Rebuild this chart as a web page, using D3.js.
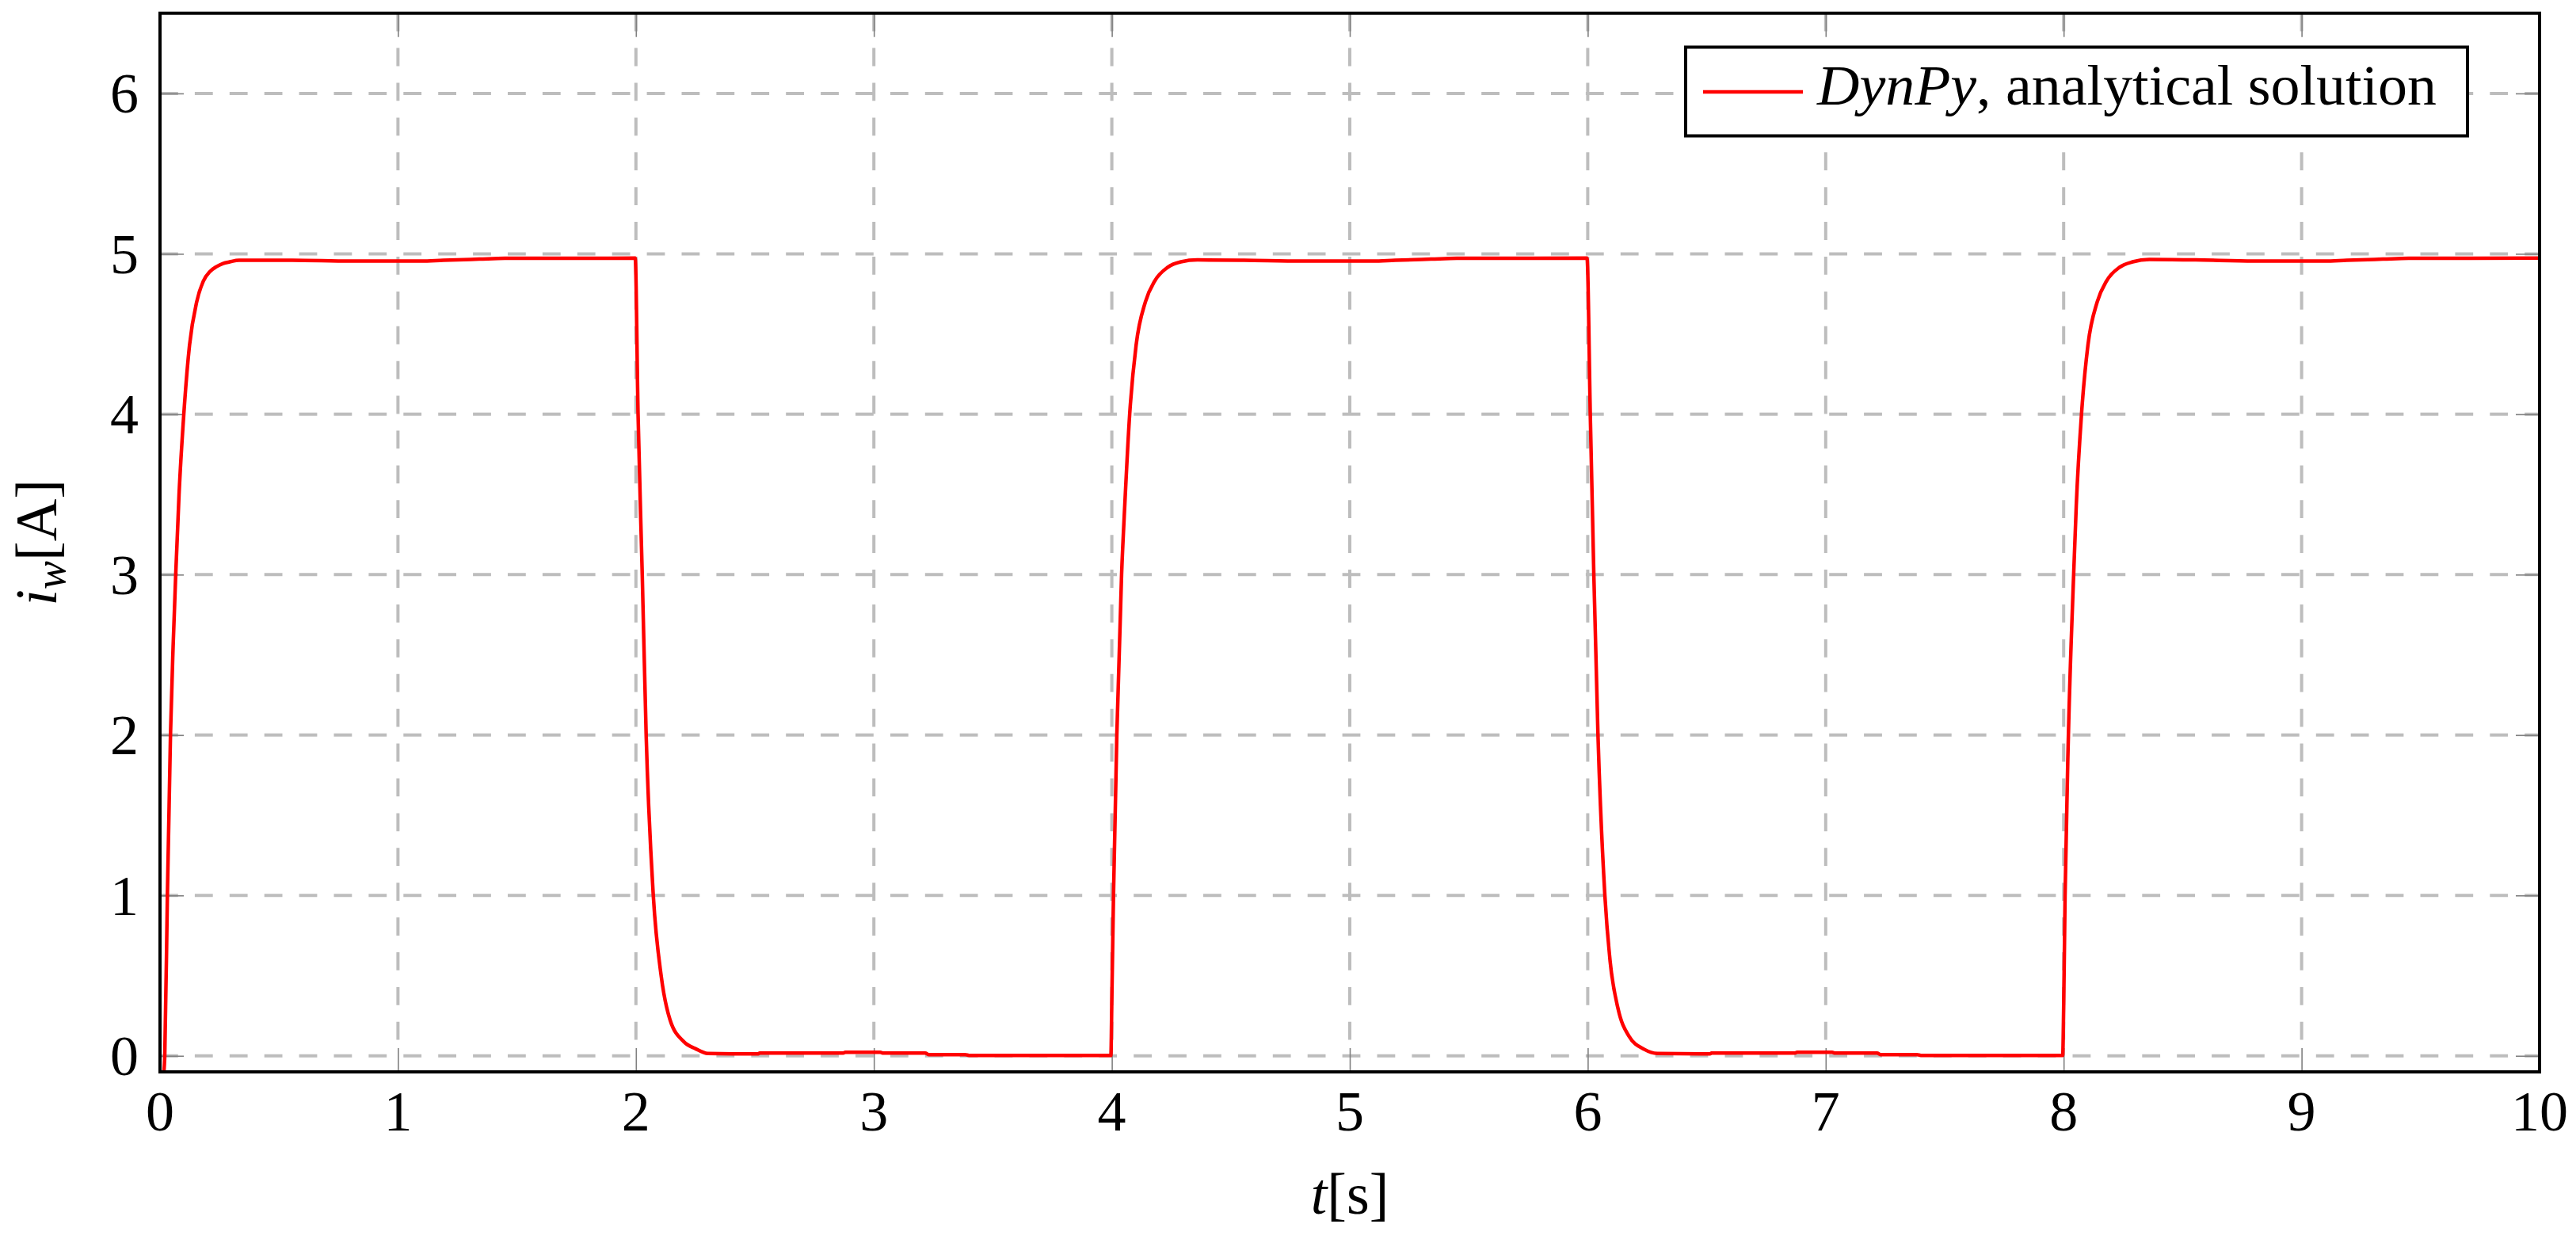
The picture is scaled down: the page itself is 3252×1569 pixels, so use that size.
<!DOCTYPE html>
<html>
<head>
<meta charset="utf-8">
<script src="https://cdn.jsdelivr.net/npm/d3@7"></script>
<style>
html,body{margin:0;padding:0;background:#fff;}
svg{display:block;}
text{font-family:"Liberation Serif","Times New Roman",serif;fill:#000;}
</style>
</head>
<body>
<svg id="chart" width="3252" height="1569"></svg>
<script>
// ---- data ----
const xTicks = [0,1,2,3,4,5,6,7,8,9,10];
const yTicks = [0,1,2,3,4,5,6];
const xTickLabels = ["0","1","2","3","4","5","6","7","8","9","10"];
const yTickLabels = ["0","1","2","3","4","5","6"];
const seriesName = ["DynPy", ", analytical solution"];

const timeS = [
  0.015,0.020,0.031,0.044,0.055,0.066,0.080,0.100,0.124,0.154,0.182,0.210,0.237,0.265,0.293,0.332,0.555,0.800,1.097,1.190,1.342,1.450,1.997,
  2.009,2.0266,2.043,2.073,2.106,2.143,2.202,2.250,2.302,2.514,2.520,2.871,2.880,3.027,3.040,3.216,3.230,3.383,3.400,3.996,
  4.000,4.007,4.021,4.041,4.055,4.075,4.102,4.141,4.180,4.235,4.290,4.360,4.555,4.800,5.097,5.190,5.342,5.450,5.997,
  6.0107,6.0256,6.043,6.072,6.094,6.128,6.172,6.238,6.293,6.514,6.520,6.871,6.880,7.027,7.040,7.216,7.230,7.383,7.400,7.996,
  8.000,8.006,8.020,8.042,8.053,8.075,8.102,8.141,8.180,8.235,8.290,8.360,8.555,8.800,9.097,9.190,9.342,9.450,10.0
];
const currentA = [
  -0.12,0.0,1.0,2.0,2.55,3.0,3.5,4.0,4.43,4.70,4.83,4.89,4.92,4.94,4.95,4.96,4.96,4.955,4.955,4.96,4.967,4.972,4.973,
  4.0,3.0,2.0,1.0,0.5,0.226,0.087,0.045,0.015,0.012,0.017,0.017,0.022,0.022,0.017,0.017,0.008,0.008,0.002,0.002,
  0.35,1.0,2.0,3.0,3.45,4.0,4.43,4.70,4.83,4.916,4.95,4.962,4.96,4.955,4.955,4.96,4.967,4.972,4.973,
  4.0,3.0,2.0,1.0,0.59,0.29,0.125,0.04,0.015,0.012,0.017,0.017,0.022,0.022,0.017,0.017,0.008,0.008,0.002,0.002,
  0.3,1.0,2.0,3.0,3.43,4.0,4.43,4.70,4.83,4.916,4.95,4.965,4.962,4.955,4.955,4.96,4.967,4.972,4.973
];

// ---- layout ----
const X0 = 202, X1 = 3206, Y0 = 16.7, Y1 = 1353;
const svg = d3.select("#chart");
const x = d3.scaleLinear().domain([0,10]).range([X0,X1]);
const y = d3.scaleLinear().domain([-0.1,6.5]).range([Y1,Y0]);

svg.append("defs").append("clipPath").attr("id","plotclip")
  .append("rect").attr("x",X0).attr("y",Y0).attr("width",X1-X0).attr("height",Y1-Y0);

// grid
const grid = svg.append("g");
grid.selectAll("line.h").data(yTicks).enter().append("line")
  .attr("x1",X0).attr("x2",X1).attr("y1",d=>y(d)).attr("y2",d=>y(d))
  .attr("stroke","#bdbdbd").attr("stroke-width",4).attr("stroke-dasharray","22.8,21.1");
grid.selectAll("line.v").data(xTicks).enter().append("line")
  .attr("x1",d=>x(d)).attr("x2",d=>x(d)).attr("y1",Y0).attr("y2",y(0))
  .attr("stroke","#bdbdbd").attr("stroke-width",4).attr("stroke-dasharray","22.8,21.1");

// ticks (inward, all four sides) via d3 axes
const tickLen = 30;
function styleTicks(g){
  g.select(".domain").remove();
  g.selectAll(".tick line").attr("stroke","#808080").attr("stroke-width",1.6);
  g.selectAll(".tick text").remove();
}
svg.append("g").attr("transform",`translate(0,${Y1})`)
  .call(d3.axisBottom(x).tickValues(xTicks).tickSizeInner(-tickLen).tickSizeOuter(0)).call(styleTicks);
svg.append("g").attr("transform",`translate(0,${Y0})`)
  .call(d3.axisTop(x).tickValues(xTicks).tickSizeInner(-tickLen).tickSizeOuter(0)).call(styleTicks);
svg.append("g").attr("transform",`translate(${X0},0)`)
  .call(d3.axisLeft(y).tickValues(yTicks).tickSizeInner(-tickLen).tickSizeOuter(0)).call(styleTicks);
svg.append("g").attr("transform",`translate(${X1},0)`)
  .call(d3.axisRight(y).tickValues(yTicks).tickSizeInner(-tickLen).tickSizeOuter(0)).call(styleTicks);

// curve
const pts = timeS.map((t,i)=>[t,currentA[i]]);
const line = d3.line().x(d=>x(d[0])).y(d=>y(d[1])).curve(d3.curveMonotoneX);
svg.append("path").datum(pts).attr("d",line).attr("clip-path","url(#plotclip)")
  .attr("fill","none").attr("stroke","#ff0000").attr("stroke-width",4.5).attr("stroke-linejoin","round");

// frame
svg.append("rect").attr("x",X0).attr("y",Y0).attr("width",X1-X0).attr("height",Y1-Y0)
  .attr("fill","none").attr("stroke","#000").attr("stroke-width",4);

// tick labels
const FS = 72;
svg.append("g").selectAll("text").data(xTicks).enter().append("text")
  .attr("x",d=>x(d)).attr("y",1427).attr("text-anchor","middle").attr("font-size",FS)
  .text((d,i)=>xTickLabels[i]);
svg.append("g").selectAll("text").data(yTicks).enter().append("text")
  .attr("x",175).attr("y",d=>y(d)+24.5).attr("text-anchor","end").attr("font-size",FS)
  .text((d,i)=>yTickLabels[i]);

// axis labels
const xl = svg.append("text").attr("x",(X0+X1)/2).attr("y",1532).attr("text-anchor","middle").attr("font-size",74);
xl.append("tspan").attr("font-style","italic").text("t");
xl.append("tspan").text("[s]");

const yl = svg.append("text").attr("transform",`translate(71,${(Y0+Y1)/2}) rotate(-90)`)
  .attr("text-anchor","middle").attr("font-size",74);
yl.append("tspan").attr("font-style","italic").text("i");
yl.append("tspan").attr("font-style","italic").attr("font-size",54).attr("dy",11).text("w");
yl.append("tspan").attr("dy",-11).text("[A]");

// legend
const lg = svg.append("g");
lg.append("rect").attr("x",2128).attr("y",59.5).attr("width",3115-2128).attr("height",171.5-59.5)
  .attr("fill","#fff").attr("stroke","#000").attr("stroke-width",4);
lg.append("line").attr("x1",2150).attr("x2",2276).attr("y1",116).attr("y2",116)
  .attr("stroke","#ff0000").attr("stroke-width",4.5);
const lt = lg.append("text").attr("x",2294).attr("y",132).attr("font-size",71);
lt.append("tspan").attr("font-style","italic").text(seriesName[0]);
lt.append("tspan").text(seriesName[1]);
const w = lt.node().getComputedTextLength();
if (w > 0) { lt.attr("textLength", 782).attr("lengthAdjust","spacingAndGlyphs"); }
</script>
</body>
</html>
